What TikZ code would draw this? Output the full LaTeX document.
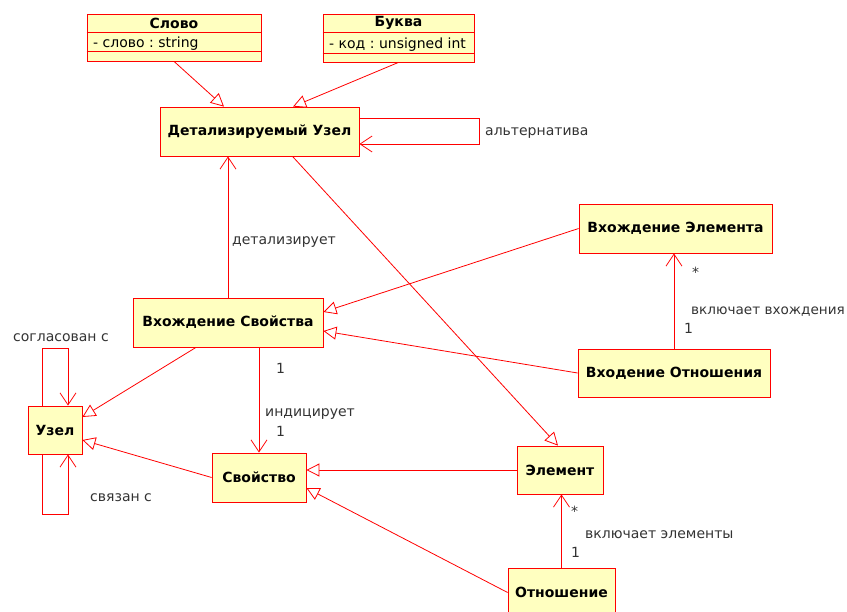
\documentclass[tikz,border=0pt]{standalone}
\usepackage{fontspec}
\setmainfont{DejaVu Sans}
\frenchspacing
\usetikzlibrary{arrows.meta,calc}
\definecolor{umlred}{RGB}{255,0,0}
\definecolor{umlfill}{RGB}{255,255,192}
\definecolor{labelgray}{RGB}{51,51,51}
\tikzset{
  cls/.style={draw=umlred, fill=umlfill, line width=0.8pt, inner sep=0pt,
    font=\fontsize{14}{16}\selectfont\bfseries, text=black},
  assoc/.style={draw=umlred, line width=0.8pt},
  gen/.style={assoc, -{Triangle[open, length=13pt, width=13pt, fill=white]}},
  nav/.style={assoc, -{Straight Barb[length=12pt, width=16pt]}},
  lbl/.style={text=labelgray, font=\fontsize{14}{16}\selectfont, inner sep=0pt, anchor=base west},
  attr/.style={text=black, font=\fontsize{14}{16}\selectfont, inner sep=0pt, anchor=base west},
}
\begin{document}
\begin{tikzpicture}[x=1pt, y=-1pt]
\useasboundingbox (0,0) rectangle (847,612);

% classes with attribute compartments
\node[cls, minimum width=174pt, minimum height=47pt] (slovo) at (174,37.5) {};
\node[cls, draw=none, fill=none] (slovoT) at (174,23) {Слово};
\draw[assoc] ($(slovo.north west)+(0,19)$) -- ($(slovo.north east)+(0,19)$);
\draw[assoc] ($(slovo.north west)+(0,38)$) -- ($(slovo.north east)+(0,38)$);
\node[attr] (slovoA) at (93,47.5) {- слово : string};

\node[cls, minimum width=151pt, minimum height=48pt] (bukva) at (398.5,38) {};
\node[cls, draw=none, fill=none] (bukvaT) at (398.5,23) {Буква};
\draw[assoc] ($(bukva.north west)+(0,19)$) -- ($(bukva.north east)+(0,19)$);
\draw[assoc] ($(bukva.north west)+(0,40)$) -- ($(bukva.north east)+(0,40)$);
\node[attr] (bukvaA) at (329,48.5) {- код : unsigned int};

% plain classes
\node[cls, minimum width=199pt, minimum height=49pt] (detal) at (259.5,131.5) {Детализируемый Узел};
\node[cls, minimum width=193pt, minimum height=49pt] (vel) at (675.5,228.5) {Вхождение Элемента};
\node[cls, minimum width=192pt, minimum height=48pt] (votn) at (674,373) {Входение Отношения};
\node[cls, minimum width=190pt, minimum height=49pt] (vsv) at (228,322.5) {Вхождение Свойства};
\node[cls, minimum width=54pt, minimum height=48pt] (uzel) at (55,430) {Узел};
\node[cls, minimum width=94pt, minimum height=49pt] (svoi) at (259,477.5) {Свойство};
\node[cls, minimum width=86pt, minimum height=48pt] (elem) at (560,470) {Элемент};
\node[cls, minimum width=107pt, minimum height=49pt] (otn) at (561.5,592.5) {Отношение};

% generalizations
\draw[gen] (slovo.south) -- ($(detal.north)+(-35.5,0)$);
\draw[gen] (bukva.south) -- ($(detal.north)+(33.5,0)$);
\draw[gen] ($(detal.south)+(33,0)$) -- ($(elem.north)+(-2,0)$);
\draw[gen] (vel.west) -- ($(vsv.east)+(0,-10.5)$);
\draw[gen] (votn.west) -- ($(vsv.east)+(0,8.5)$);
\draw[gen] ($(vsv.south)+(-32,0)$) -- ($(uzel.east)+(0,-13)$);
\draw[gen] (svoi.west) -- ($(uzel.east)+(0,10)$);
\draw[gen] (elem.west) -- (elem.west -| svoi.east);
\draw[gen] (otn.west) -- ($(svoi.east)+(0,10.5)$);

% associations
\draw[nav] (vsv.north) -- (vsv.north |- detal.south);
\draw[nav] ($(vsv.south)+(31,0)$) -- (svoi.north);
\draw[nav] (votn.north) -- (votn.north |- vel.south);
\draw[nav] (otn.north) -- (otn.north |- elem.south);

% self associations
\draw[nav] ($(detal.east)+(0,-13.5)$) -- ++(120,0) -- ++(0,26) -- ($(detal.east)+(0,12.5)$);
\draw[nav] ($(uzel.north)+(-13,0)$) -- ++(0,-57) -- ++(26,0) -- ($(uzel.north)+(13,0)$);
\draw[nav] ($(uzel.south)+(-13,0)$) -- ++(0,60) -- ++(26,0) -- ($(uzel.south)+(13,0)$);

% association labels
\node[lbl] (altL) at (485,136) {альтернатива};
\node[lbl] (detL) at (232,245) {детализирует};
\node[lbl] (soglL) at (13,342) {согласован с};
\node[lbl] (svyazL) at (90,501) {связан с};
\node[lbl] (indM1) at (276,374) {1};
\node[lbl] (indL) at (265,417) {индицирует};
\node[lbl] (indM2) at (276,437) {1};
\node[lbl] (vvM1) at (692,278) {*};
\node[lbl, font=\fontsize{13.6}{16}\selectfont] (vvL) at (691,315) {включает вхождения};
\node[lbl] (vvM2) at (684,334) {1};
\node[lbl] (veM1) at (571,516) {*};
\node[lbl] (veL) at (585,538) {включает элементы};
\node[lbl] (veM2) at (571,558) {1};
\end{tikzpicture}
\end{document}
